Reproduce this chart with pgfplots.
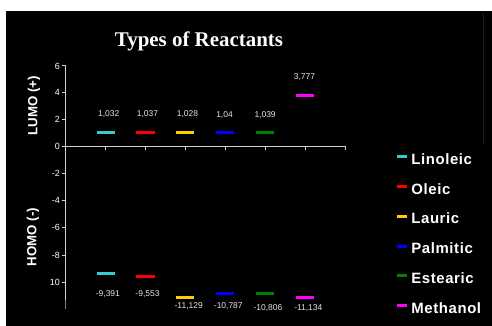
\documentclass[border=0pt]{standalone}
\usepackage{fontspec}
\setmainfont{Liberation Sans}
\newfontfamily\titlefont{Liberation Serif}
\newfontfamily\legfont[LetterSpace=4]{Liberation Sans}
\usepackage{pgfplots}
\pgfplotsset{compat=1.18}
\definecolor{cLin}{HTML}{33CCCC}
\definecolor{cOle}{HTML}{FF0000}
\definecolor{cLau}{HTML}{FFCC00}
\definecolor{cPal}{HTML}{0000FF}
\definecolor{cEst}{HTML}{008000}
\definecolor{cMet}{HTML}{FF00FF}
\definecolor{axgray}{HTML}{D4D4D4}
\definecolor{lblgray}{HTML}{E6E6E6}
\pgfplotsset{
  common/.style={scale only axis, width=280bp, xmin=0, xmax=7, clip=false,
    axis y line*=left, tick align=outside, major tick length=3.5bp,
    axis line style={draw=axgray, line width=1bp},
    tick style={draw=axgray, line width=1bp},
    yticklabel style={font=\fontsize{9}{10}\selectfont, text=white, inner sep=0pt, xshift=-2bp},
    /pgf/number format/assume math mode=true},
  dash/.style={only marks, mark=-, mark size=9bp, mark options={draw=#1, line width=3bp}},
  vlab/.style={draw=none, mark=none, forget plot, nodes near coords, point meta=explicit symbolic,
    nodes near coords style={anchor=center, font=\fontsize{8.5}{10}\selectfont, text=lblgray, inner sep=0pt, text height=6.1bp, text depth=0pt}},
  legline/.style={legend image code/.code={\fill[#1] (0bp,3bp) rectangle (9bp,5bp);}},
}
\begin{document}
\begin{tikzpicture}
\fill[white] (0bp,0bp) rectangle (492bp,326bp);
\fill[black] (6bp,0bp) rectangle (492bp,315bp);
\draw[color={rgb,255:red,30;green,30;blue,30}, line width=1bp] (483bp,313bp) -- (483bp,181bp);
\node[anchor=base, text=white, font=\titlefont\bfseries\fontsize{21}{24}\selectfont] at (199bp,279bp) {Types of Reactants};
\node[rotate=90, text=white, font=\bfseries\fontsize{13.3}{15}\selectfont] at (34bp,220bp) {LUMO (+)};
\node[rotate=90, text=white, font=\bfseries\fontsize{13.3}{15}\selectfont] at (33bp,89bp) {HOMO (-)};
\begin{axis}[common, at={(65.5bp,180bp)}, anchor=south west, height=80bp,
  ymin=0, ymax=6, axis x line*=bottom, xtick={1,...,7}, xticklabels={},
  ytick={0,2,4,6},
  legend cell align=left,
  legend style={at={(axis cs:8.2875,-0.5625)}, anchor=north west, draw=none, fill=none,
    inner sep=0pt, outer sep=0pt, text=white,
    font=\legfont\fontsize{15}{15}\bfseries\selectfont,
    nodes={inner sep=0pt, text height=11bp, text depth=3bp},
    row sep=15.74bp, column sep=5bp}]
\addplot[dash=cLin, legline=cLin] coordinates {(1,1.032)}; \addlegendentry{Linoleic}
\addplot[dash=cOle, legline=cOle] coordinates {(2,1.037)}; \addlegendentry{Oleic}
\addplot[dash=cLau, legline=cLau] coordinates {(3,1.028)}; \addlegendentry{Lauric}
\addplot[dash=cPal, legline=cPal] coordinates {(4,1.04)}; \addlegendentry{Palmitic}
\addplot[dash=cEst, legline=cEst] coordinates {(5,1.039)}; \addlegendentry{Estearic}
\addplot[dash=cMet, legline=cMet] coordinates {(6,3.777)}; \addlegendentry{Methanol}
\addplot[vlab] table[meta=lab] {
x y lab
1.08 2.41 1,032
2.05 2.47 1,037
3.05 2.47 1,028
3.975 2.35 1,04
4.99 2.40 1,039
5.975 5.23 3,777
};
\end{axis}
\begin{axis}[common, at={(65.5bp,26bp)}, anchor=south west, height=154bp,
  ymin=-11.3, ymax=0, axis x line=none,
  ytick={-10,-8,-6,-4,-2}, yticklabels={10,-8,-6,-4,-2}]
\addplot[dash=cLin, forget plot] coordinates {(1,-9.391)};
\addplot[dash=cOle, forget plot] coordinates {(2,-9.553)};
\addplot[dash=cLau, forget plot] coordinates {(3,-11.129)};
\addplot[dash=cPal, forget plot] coordinates {(4,-10.787)};
\addplot[dash=cEst, forget plot] coordinates {(5,-10.806)};
\addplot[dash=cMet, forget plot] coordinates {(6,-11.134)};
\addplot[vlab] table[meta=lab] {
x y lab
1.06 -10.79 -9,391
2.05 -10.79 -9,553
3.08 -11.72 -11,129
4.07 -11.69 -10,787
5.06 -11.81 -10,806
6.07 -11.83 -11,134
};
\draw[color=gray, line width=1bp] (axis cs:0,-11.3) -- (axis cs:0,-11.96);
\end{axis}
\end{tikzpicture}
\end{document}
